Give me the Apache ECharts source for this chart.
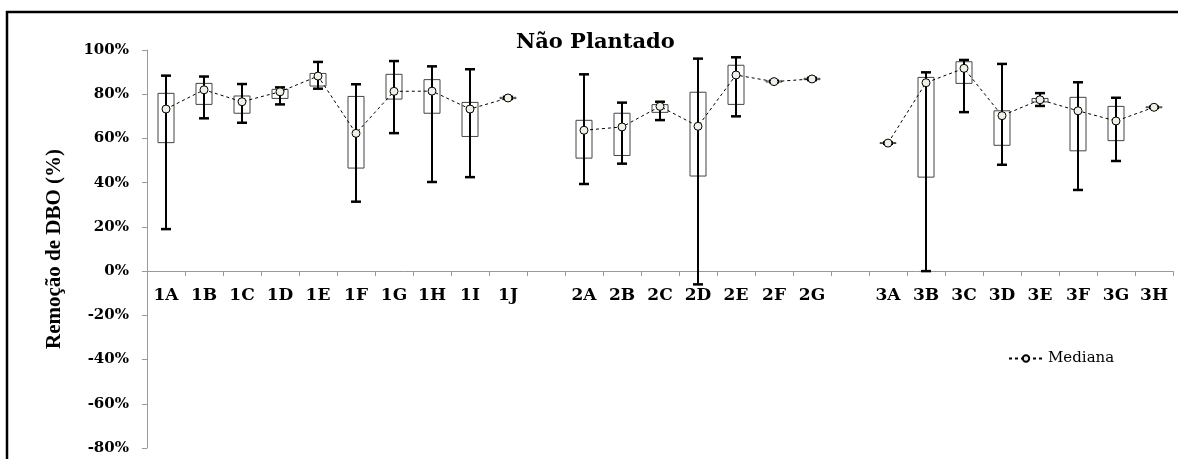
<!DOCTYPE html>
<html>
<head>
<meta charset="utf-8">
<script src="https://cdn.jsdelivr.net/npm/echarts@6/dist/echarts.min.js"></script>
<style>
html,body{margin:0;padding:0;background:#fff;}
#chart{width:1178px;height:459px;}
</style>
</head>
<body>
<div id="chart"></div>
<script>
const categories = ['1A','1B','1C','1D','1E','1F','1G','1H','1I','1J','',
  '2A','2B','2C','2D','2E','2F','2G','',
  '3A','3B','3C','3D','3E','3F','3G','3H'];
const minVals    = [19.0,69.1,67.1,75.4,82.5,31.4,62.4,40.3,42.5,77.9,null,39.4,48.6,68.3,-6.0,70.0,85.4,86.4,null,57.6,0.0,71.9,48.1,74.7,36.7,49.8,73.8];
const q1Vals     = [58.1,75.4,71.4,78.1,83.7,46.6,77.8,71.4,60.9,78.0,null,51.1,52.3,71.8,43.0,75.4,85.5,86.6,null,57.7,42.5,84.9,56.9,76.5,54.4,59.0,73.9];
const medianVals = [73.3,82.0,76.6,81.1,88.2,62.3,81.3,81.4,73.3,78.3,null,63.7,65.2,74.5,65.5,88.7,85.7,86.9,null,57.9,85.2,91.7,70.3,77.5,72.5,67.9,74.1];
const q3Vals     = [80.4,84.9,79.2,82.2,89.4,79.0,89.0,86.6,76.3,78.6,null,68.2,71.4,75.3,80.9,93.1,86.0,87.2,null,58.1,87.6,94.7,72.5,78.1,78.6,74.5,74.3];
const maxVals    = [88.4,88.0,84.6,83.1,94.6,84.5,95.0,92.6,91.3,78.8,null,89.0,76.2,76.6,96.1,96.7,86.1,87.4,null,58.2,89.9,95.5,93.7,80.5,85.4,78.4,74.4];
const yTicks = {min:-80, max:100, interval:20};

const boxData = [];
categories.forEach((c,i)=>{
  if (minVals[i] !== null) boxData.push([i, minVals[i], q1Vals[i], medianVals[i], q3Vals[i], maxVals[i]]);
});
const medData = medianVals.map(v => v === null ? '-' : v);

const W = 1178, H = 459;
const gridTop = 50, gridBottom = 11;
const gridH = H - gridTop - gridBottom;
// place the category axis at the value 0 of the y scale
const zeroOffset = -gridH * (0 - yTicks.min) / (yTicks.max - yTicks.min);

const serif = 'Liberation Serif, Times New Roman, serif';
const wide = 'DejaVu Serif, serif';
const chart = echarts.init(document.getElementById('chart'));
chart.setOption({
  animation:false,
  backgroundColor:'#fff',
  title:{text:'Não Plantado', left:511, top:27,
    textStyle:{fontFamily:wide, fontSize:21, fontWeight:'bold', color:'#000'}},
  legend:{data:['Mediana'], left:1003, top:346, itemWidth:34, itemHeight:8, itemGap:5,
    textStyle:{fontFamily:wide, fontSize:15, color:'#000'}},
  grid:{left:147, right:5, top:gridTop, bottom:gridBottom, outerBoundsMode:'none'},
  xAxis:{type:'category', data:categories, position:'bottom', offset:zeroOffset,
    axisLine:{onZero:false, lineStyle:{color:'#999', width:1}},
    axisTick:{show:true, length:5, lineStyle:{color:'#999'}},
    axisLabel:{interval:0, margin:16, fontFamily:wide, fontSize:17, fontWeight:'bold', color:'#000'},
    splitLine:{show:false}},
  yAxis:{type:'value', min:yTicks.min, max:yTicks.max, interval:yTicks.interval,
    name:'Remoção de DBO (%)', nameLocation:'middle', nameGap:82,
    nameTextStyle:{fontFamily:serif, fontSize:21, fontWeight:'bold', color:'#000'},
    axisLine:{show:true, lineStyle:{color:'#999'}},
    axisTick:{show:true, length:5, lineStyle:{color:'#999'}},
    axisLabel:{formatter:'{value}%', margin:18, fontFamily:wide, fontSize:15, fontWeight:'bold', color:'#000'},
    splitLine:{show:false}},
  graphic:[
    {type:'line', z:100, silent:true, shape:{x1:7, y1:11, x2:7, y2:W}, style:{stroke:'#000', lineWidth:2.5}},
    {type:'line', z:100, silent:true, shape:{x1:6, y1:12, x2:W, y2:12}, style:{stroke:'#000', lineWidth:2.5}}
  ],
  series:[
    {type:'custom', name:'box', z:2,
      data:boxData,
      encode:{x:0, y:[1,2,3,4,5]},
      renderItem:function(params, api){
        const x = api.value(0);
        const pMin = api.coord([x, api.value(1)]);
        const pQ1 = api.coord([x, api.value(2)]);
        const pQ3 = api.coord([x, api.value(4)]);
        const pMax = api.coord([x, api.value(5)]);
        const cx = pMin[0];
        const bw = 16, cw = 10;
        return {type:'group', children:[
          {type:'rect', shape:{x:cx-bw/2, y:pQ3[1], width:bw, height:pQ1[1]-pQ3[1]},
            style:{fill:'#fff', stroke:'#444', lineWidth:1}},
          {type:'line', shape:{x1:cx, y1:pMin[1], x2:cx, y2:pMax[1]},
            style:{stroke:'#000', lineWidth:2}},
          {type:'line', shape:{x1:cx-cw/2, y1:pMax[1], x2:cx+cw/2, y2:pMax[1]},
            style:{stroke:'#000', lineWidth:2.5}},
          {type:'line', shape:{x1:cx-cw/2, y1:pMin[1], x2:cx+cw/2, y2:pMin[1]},
            style:{stroke:'#000', lineWidth:2.5}}
        ]};
      }
    },
    {type:'line', name:'Mediana', z:5, data:medData, connectNulls:false,
      symbol:'circle', symbolSize:8,
      itemStyle:{color:'#f2f0e6', borderColor:'#000', borderWidth:1},
      lineStyle:{color:'#000', width:1, type:[3,3]}
    }
  ]
});
</script>
</body>
</html>
